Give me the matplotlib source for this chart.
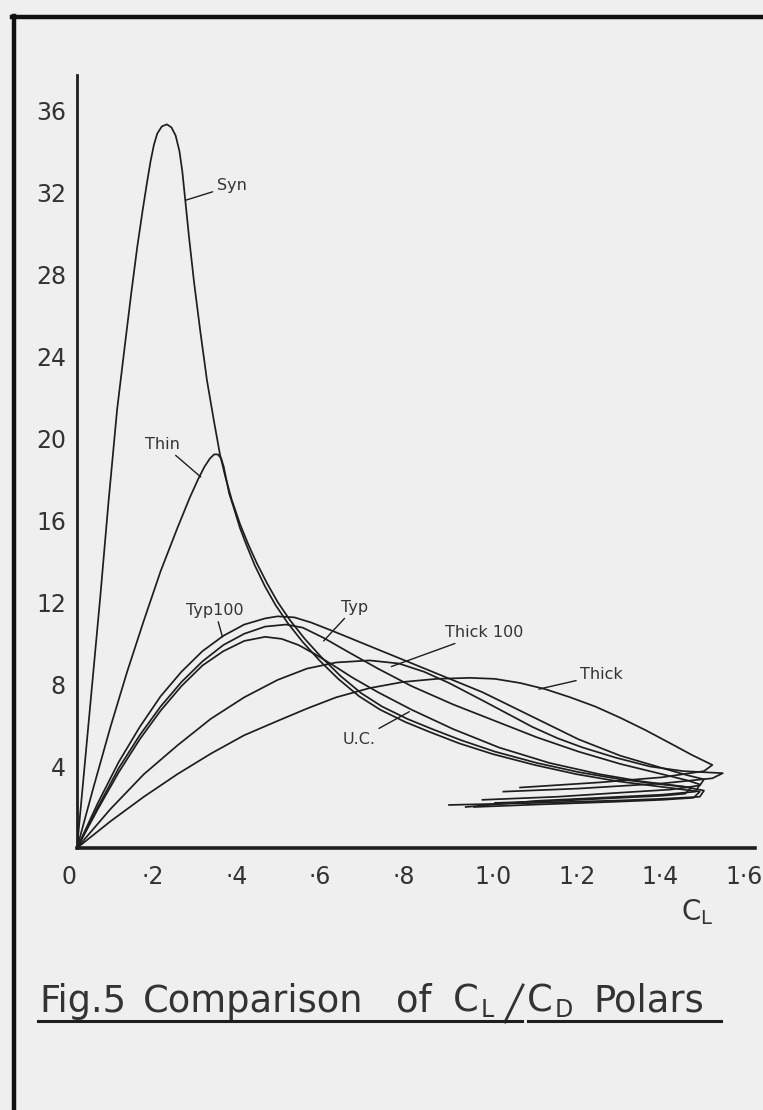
import matplotlib
matplotlib.use("Agg")
import matplotlib.pyplot as plt
from matplotlib.lines import Line2D
from matplotlib.transforms import ScaledTranslation

plt.rcParams['font.family'] = ['DejaVu Sans']

# ---------------- data (C_L, C_L/C_D) ----------------
sym_cl = [0, 0.03, 0.055, 0.075, 0.096, 0.115, 0.13, 0.144, 0.157, 0.167, 0.176, 0.184, 0.192,
          0.203, 0.215, 0.226, 0.236, 0.245, 0.252, 0.258, 0.268, 0.28, 0.295, 0.311, 0.327,
          0.342, 0.355, 0.37, 0.39, 0.41, 0.43, 0.455, 0.48, 0.51, 0.545, 0.585, 0.63, 0.68,
          0.73, 0.79, 0.85, 0.92, 1.00, 1.10, 1.20, 1.30, 1.40, 1.47,
          1.455, 1.40, 1.30, 1.15, 1.00]
sym_ld = [0, 6.6, 12.1, 16.8, 21.4, 24.6, 27.1, 29.3, 31.1, 32.4, 33.5, 34.3, 34.85,
          35.2, 35.3, 35.15, 34.75, 34.0, 33.0, 31.8, 29.8, 27.6, 25.2, 22.8, 20.9,
          19.2, 18.1, 17.0, 15.8, 14.8, 13.9, 12.9, 12.0, 11.1, 10.2, 9.3, 8.4, 7.55,
          6.9, 6.3, 5.8, 5.25, 4.7, 4.15, 3.7, 3.35, 3.1, 2.95,
          2.65, 2.55, 2.45, 2.3, 2.2]

thin_cl = [0, 0.04, 0.08, 0.12, 0.16, 0.20, 0.24, 0.27, 0.29, 0.305, 0.318, 0.328, 0.337,
           0.345, 0.351, 0.357, 0.364, 0.375, 0.39, 0.405, 0.425, 0.45, 0.475, 0.505, 0.54,
           0.58, 0.625, 0.675, 0.725, 0.785, 0.845, 0.915, 0.995, 1.095, 1.195, 1.295, 1.40,
           1.49, 1.475, 1.40, 1.28, 1.10, 0.95]
thin_ld = [0, 3.0, 5.9, 8.6, 11.1, 13.5, 15.6, 17.1, 18.0, 18.6, 19.0, 19.2, 19.2,
           19.0, 18.6, 18.0, 17.3, 16.6, 15.6, 14.8, 13.8, 12.75, 11.85, 10.95, 10.05,
           9.15, 8.25, 7.4, 6.75, 6.15, 5.65, 5.1, 4.58, 4.05, 3.6, 3.25, 2.98,
           2.75, 2.45, 2.35, 2.25, 2.12, 2.0]

typ100_cl = [0, 0.05, 0.10, 0.15, 0.20, 0.25, 0.30, 0.35, 0.40, 0.45, 0.48, 0.52, 0.56, 0.61,
             0.67, 0.73, 0.79, 0.85, 0.91, 0.97, 1.03, 1.10, 1.20, 1.30, 1.40, 1.46, 1.50,
             1.49, 1.42, 1.30, 1.15, 0.97]
typ100_ld = [0, 2.2, 4.2, 5.9, 7.4, 8.6, 9.6, 10.35, 10.9, 11.2, 11.3, 11.25, 11.0, 10.6,
             10.1, 9.6, 9.1, 8.6, 8.1, 7.6, 7.0, 6.3, 5.3, 4.5, 3.9, 3.55, 3.35,
             3.05, 2.85, 2.7, 2.5, 2.35]

typ_cl = [0, 0.05, 0.10, 0.15, 0.20, 0.25, 0.30, 0.35, 0.40, 0.45, 0.50, 0.54, 0.59, 0.65,
          0.72, 0.80, 0.90, 1.00, 1.10, 1.20, 1.30, 1.40, 1.46, 1.49, 1.48, 1.40, 1.30,
          1.10, 0.93]
typ_ld = [0, 2.0, 3.9, 5.5, 6.9, 8.1, 9.1, 9.9, 10.45, 10.8, 10.9, 10.75, 10.25, 9.55,
          8.75, 7.9, 7.0, 6.2, 5.4, 4.7, 4.1, 3.6, 3.3, 3.1, 2.75, 2.6, 2.5,
          2.3, 2.0]

uc_cl = [0, 0.05, 0.10, 0.15, 0.20, 0.25, 0.30, 0.35, 0.40, 0.45, 0.49, 0.53, 0.57, 0.61,
         0.66, 0.72, 0.80, 0.90, 1.01, 1.13, 1.25, 1.35, 1.45, 1.50, 1.49, 1.40, 1.30,
         1.10, 0.89]
uc_ld = [0, 1.9, 3.7, 5.3, 6.7, 7.9, 8.9, 9.6, 10.1, 10.3, 10.2, 9.9, 9.45, 8.95,
         8.3, 7.6, 6.75, 5.8, 4.9, 4.15, 3.6, 3.25, 3.0, 2.8, 2.5, 2.4, 2.32,
         2.2, 2.1]

thick100_cl = [0, 0.08, 0.16, 0.24, 0.32, 0.40, 0.48, 0.55, 0.62, 0.70, 0.77, 0.83, 0.89,
               0.97, 1.03, 1.09, 1.15, 1.21, 1.29, 1.37, 1.45, 1.545, 1.52, 1.40, 1.20, 1.02]
thick100_ld = [0, 1.9, 3.6, 5.0, 6.3, 7.35, 8.2, 8.75, 9.05, 9.15, 9.0, 8.6, 8.05,
               7.2, 6.55, 5.9, 5.35, 4.9, 4.4, 3.98, 3.75, 3.65, 3.4, 3.15, 2.9, 2.75]

thick_cl = [0, 0.08, 0.16, 0.24, 0.32, 0.40, 0.48, 0.55, 0.62, 0.70, 0.78, 0.86, 0.94, 1.00,
            1.06, 1.12, 1.18, 1.24, 1.30, 1.36, 1.42, 1.47, 1.52, 1.50, 1.40, 1.25, 1.06]
thick_ld = [0, 1.3, 2.5, 3.6, 4.6, 5.5, 6.2, 6.8, 7.35, 7.8, 8.1, 8.25, 8.3, 8.25,
            8.05, 7.75, 7.35, 6.9, 6.35, 5.75, 5.1, 4.55, 4.05, 3.75, 3.45, 3.2, 2.95]

series = [(sym_cl, sym_ld), (thin_cl, thin_ld), (typ100_cl, typ100_ld), (typ_cl, typ_ld),
          (uc_cl, uc_ld), (thick100_cl, thick100_ld), (thick_cl, thick_ld)]

# curve labels: text, text position, pointer end (data units)
label_texts = ["Syn", "Thin", "Typ100", "Typ", "Thick 100", "Thick", "U.C."]
label_pos = [(0.37, 32.3), (0.205, 19.7), (0.33, 11.6), (0.665, 11.75), (0.975, 10.5),
             (1.255, 8.45), (0.675, 5.3)]
label_tip = [(0.26, 31.6), (0.296, 18.1), (0.348, 10.3), (0.59, 10.1), (0.752, 8.85),
             (1.105, 7.75), (0.795, 6.65)]

x_ticks = [0, 0.2, 0.4, 0.6, 0.8, 1.0, 1.2, 1.4, 1.6]
x_ticklabels = ["0", "·2", "·4", "·6", "·8", "1·0", "1·2", "1·4", "1·6"]
y_ticks = [4, 8, 12, 16, 20, 24, 28, 32, 36]
y_ticklabels = ["4", "8", "12", "16", "20", "24", "28", "32", "36"]

# ---------------- figure ----------------
W, H = 763, 1110
bg = '#efeff0'
ink = '#1e1e1e'
txt_c = '#333333'
fig = plt.figure(figsize=(W / 100, H / 100), dpi=100, facecolor=bg)

x0, y0 = 77, 848          # origin in pixels
xr, yt = 755, 75          # right end of x axis / top of y axis
ax = fig.add_axes([x0 / W, 1 - y0 / H, (xr - x0) / W, (y0 - yt) / H])
ax.set_facecolor('none')
ax.set_xlim(0, (xr - x0) / 418)
ax.set_ylim(0, (y0 - yt) / 20.5)

for cl, ld in series:
    ax.plot(cl, ld, color=ink, lw=1.25, solid_joinstyle='round', clip_on=False)

for txt, pos, tip in zip(label_texts, label_pos, label_tip):
    ax.annotate(txt, xy=tip, xytext=pos, ha='center', va='center', fontsize=11.5,
                color=txt_c,
                arrowprops=dict(arrowstyle='-', color=ink, lw=1.0,
                                shrinkA=1, shrinkB=0))

for s in ['top', 'right']:
    ax.spines[s].set_visible(False)
ax.spines['left'].set_linewidth(2.0)
ax.spines['bottom'].set_linewidth(2.6)
ax.spines['left'].set_color(ink)
ax.spines['bottom'].set_color(ink)

ax.set_xticks(x_ticks)
ax.set_xticklabels(x_ticklabels)
ax.set_yticks(y_ticks)
ax.set_yticklabels(y_ticklabels)
ax.tick_params(axis='both', length=0, labelsize=17, colors=txt_c)
ax.tick_params(axis='x', pad=12)
ax.tick_params(axis='y', pad=8)
# hand-lettered x labels sit a little left of their positions
for lab, v in zip(ax.get_xticklabels(), x_ticks):
    dx = -8 if v < 1.0 else -2
    lab.set_transform(lab.get_transform() + ScaledTranslation(dx / 100, 0, fig.dpi_scale_trans))

# axis title C_L
fig.text(697 / W, 1 - 912 / H, r'$\mathregular{C_L}$', fontsize=20, ha='center',
         va='center', color=txt_c)

# caption, word by word
cap_y = 1 - 1012 / H
cap_fs = 26.5
fig.text(39 / W, cap_y, 'Fig.5', fontsize=cap_fs, ha='left', va='baseline', color=txt_c)
fig.text(143 / W, cap_y, 'Comparison', fontsize=cap_fs, ha='left', va='baseline', color=txt_c)
fig.text(396 / W, cap_y, 'of', fontsize=cap_fs, ha='left', va='baseline', color=txt_c)
fig.text(453 / W, cap_y, 'C', fontsize=cap_fs, ha='left', va='baseline', color=txt_c)
fig.text(481 / W, cap_y - 5 / H, 'L', fontsize=17, ha='left', va='baseline', color=txt_c)
fig.add_artist(Line2D([523 / W, 505 / W], [1 - 985 / H, 1 - 1022 / H], color=txt_c, lw=2.0))
fig.text(527 / W, cap_y, 'C', fontsize=cap_fs, ha='left', va='baseline', color=txt_c)
fig.text(555 / W, cap_y - 5 / H, 'D', fontsize=17, ha='left', va='baseline', color=txt_c)
fig.text(593 / W, cap_y, 'Polars', fontsize=cap_fs, ha='left', va='baseline', color=txt_c)
fig.add_artist(Line2D([38 / W, 522 / W], [1 - 1021 / H] * 2, color=ink, lw=2.2))
fig.add_artist(Line2D([528 / W, 721 / W], [1 - 1021 / H] * 2, color=ink, lw=2.2))

# photographed frame (top and left edges)
fig.add_artist(Line2D([12 / W, 1.0], [1 - 17 / H] * 2, color='#111111', lw=3.2))
fig.add_artist(Line2D([14 / W] * 2, [1 - 16 / H, 0.0], color='#111111', lw=3.2))

fig.savefig('out.png', dpi=100, facecolor=bg)
